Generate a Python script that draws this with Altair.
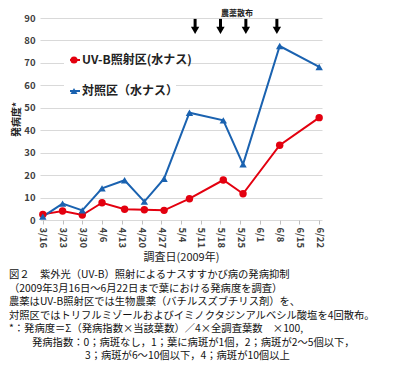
import altair as alt
import pandas as pd

# ---- data ----
series_names = ["UV-B照射区(水ナス)", "対照区（水ナス）"]
dates = ["2009-03-16", "2009-03-23", "2009-03-30", "2009-04-06", "2009-04-14",
         "2009-04-21", "2009-04-28", "2009-05-07", "2009-05-19", "2009-05-26",
         "2009-06-08", "2009-06-22"]
uvb_values = [2.5, 4.0, 2.2, 7.7, 4.8, 4.6, 4.3, 9.5, 17.8, 11.7, 33.3, 45.6]
control_values = [1.5, 7.3, 4.3, 14.1, 17.7, 8.2, 18.4, 47.8, 44.4, 24.8, 77.5, 68.2]
tick_labels = ["3/16", "3/23", "3/30", "4/6", "4/13", "4/20", "4/27", "5/4",
               "5/11", "5/18", "5/25", "6/1", "6/8", "6/15", "6/22"]
spray_dates = ["2009-05-09", "2009-05-18", "2009-05-27", "2009-06-07"]
spray_label = "農薬散布"
x_title = "調査日(2009年)"
y_title = "発病度*"
caption_lines = [
    "図２　紫外光（UV-B）照射によるナスすすかび病の発病抑制",
    "（2009年3月16日～6月22日まで葉における発病度を調査）",
    "農薬はUV-B照射区では生物農薬（バチルスズブチリス剤）を、",
    "対照区ではトリフルミゾールおよびイミノクタジンアルベシル酸塩を4回散布。",
    "*：発病度＝Σ（発病指数×当該葉数）／4×全調査葉数　×100,",
    "発病指数：0；病斑なし，1；葉に病斑が1個，2；病斑が2～5個以下，",
    "3；病斑が6～10個以下，4；病斑が10個以上",
]

RED = "#e3000f"
BLUE = "#1a62b0"
FONT = "Noto Sans CJK JP"

start = pd.Timestamp("2009-03-16")
day = lambda d: (pd.Timestamp(d) - start).days

df = pd.DataFrame({
    "day": [day(d) for d in dates] * 2,
    "value": uvb_values + control_values,
    "series": [series_names[0]] * len(dates) + [series_names[1]] * len(dates),
})
arrows = pd.DataFrame({"day": [day(d) for d in spray_dates]})

tick_days = [7 * i for i in range(len(tick_labels))]
label_expr = "[" + ",".join("'%s'" % t for t in tick_labels) + "][round(datum.value/7)]"

x_scale = alt.Scale(domain=[-1, 99], nice=False, zero=False)
y_scale = alt.Scale(domain=[0, 90], nice=False)

x_axis = alt.Axis(values=tick_days, labelExpr=label_expr, labelAngle=90,
                  labelOverlap=False, labelBound=False,
                  grid=False, domain=False, tickSize=4, tickColor="#bfbfbf",
                  labelFontSize=9.5, labelFontWeight="bold", labelColor="#404040",
                  labelPadding=3, title=x_title, titleFontSize=11,
                  titleFontWeight="normal", titleColor="#222", titlePadding=4)
y_axis = alt.Axis(values=list(range(0, 91, 10)), domain=False, ticks=False,
                  labelOverlap=False, labelBound=False,
                  gridColor="#d9d9d9", labelFontSize=9.5, labelFontWeight="bold",
                  labelColor="#404040", labelPadding=5, title=y_title,
                  titleFontSize=10, titleFontWeight="bold", titleColor="#222",
                  titlePadding=2)
x_enc = alt.X("day:Q", scale=x_scale, axis=x_axis)
y_enc = alt.Y("value:Q", scale=y_scale, axis=y_axis)

color = alt.Color("series:N", scale=alt.Scale(domain=series_names, range=[RED, BLUE]), legend=None)
shape = alt.Shape("series:N", scale=alt.Scale(domain=series_names, range=["circle", "triangle-up"]), legend=None)

base = alt.Chart(df)
lines = base.mark_line(strokeWidth=2).encode(x=x_enc, y=y_enc, color=color, detail="series:N")
points = base.mark_point(filled=True, size=55, opacity=1).encode(
    x=x_enc, y=y_enc, color=color, shape=shape)

# spray arrows
shafts = alt.Chart(arrows).mark_rule(strokeWidth=3, color="black").encode(
    x=x_enc, y=alt.YDatum(89.6, scale=y_scale, axis=y_axis), y2=alt.datum(85))
heads = alt.Chart(arrows).mark_point(shape="triangle-down", filled=True, size=70,
                                     color="black", opacity=1).encode(
    x=x_enc, y=alt.YDatum(84.5, scale=y_scale, axis=y_axis))
spray_text = alt.Chart(pd.DataFrame({"t": [spray_label]})).mark_text(
    font=FONT, fontSize=8, fontWeight="bold", color="#222", baseline="middle").encode(
    text="t:N", x=alt.value(197), y=alt.value(-4.5))

# manual legend
legend_layers = [
    alt.Chart(pd.DataFrame({"a": [0]})).mark_rect(color="white").encode(
        x=alt.value(24), x2=alt.value(136), y=alt.value(27), y2=alt.value(87))
]
legend_rows = [(series_names[0], RED, "circle", 42), (series_names[1], BLUE, "triangle-up", 73)]
for name, col, shp, ly in legend_rows:
    ldf = pd.DataFrame({"t": [name]})
    legend_layers.append(alt.Chart(ldf).mark_rule(color=col, strokeWidth=2).encode(
        x=alt.value(30), x2=alt.value(40), y=alt.value(ly)))
    legend_layers.append(alt.Chart(ldf).mark_point(shape=shp, filled=True, size=50,
                                                   color=col, opacity=1).encode(
        x=alt.value(34), y=alt.value(ly)))
    legend_layers.append(alt.Chart(ldf).mark_text(align="left", baseline="middle", font=FONT,
                                                  fontSize=12, fontWeight="bold", color="#222").encode(
        text="t:N", x=alt.value(42), y=alt.value(ly)))

# caption
cap_x = [-31, -31, -31, -31, -31, -8, 45]
cap_y = [257, 270.5, 284, 297.5, 311, 324.5, 338]
caption_layers = []
for txt, cx, cy in zip(caption_lines, cap_x, cap_y):
    caption_layers.append(alt.Chart(pd.DataFrame({"t": [txt]})).mark_text(
        align="left", baseline="middle", font=FONT, fontSize=10.3, color="#111").encode(
        text="t:N", x=alt.value(cx), y=alt.value(cy)))

chart = alt.layer(lines, points, shafts, heads, spray_text, *legend_layers, *caption_layers).properties(
    width=282, height=202,
    autosize=alt.AutoSizeParams(type="none"),
    padding={"left": 32, "top": 10, "right": 70, "bottom": 160},
).configure_view(stroke=None).configure_axis(
    labelFont=FONT, titleFont=FONT, labelOverlap=False, labelBound=False)

chart.save("out.html", embed_options={"renderer": "svg", "actions": False})
